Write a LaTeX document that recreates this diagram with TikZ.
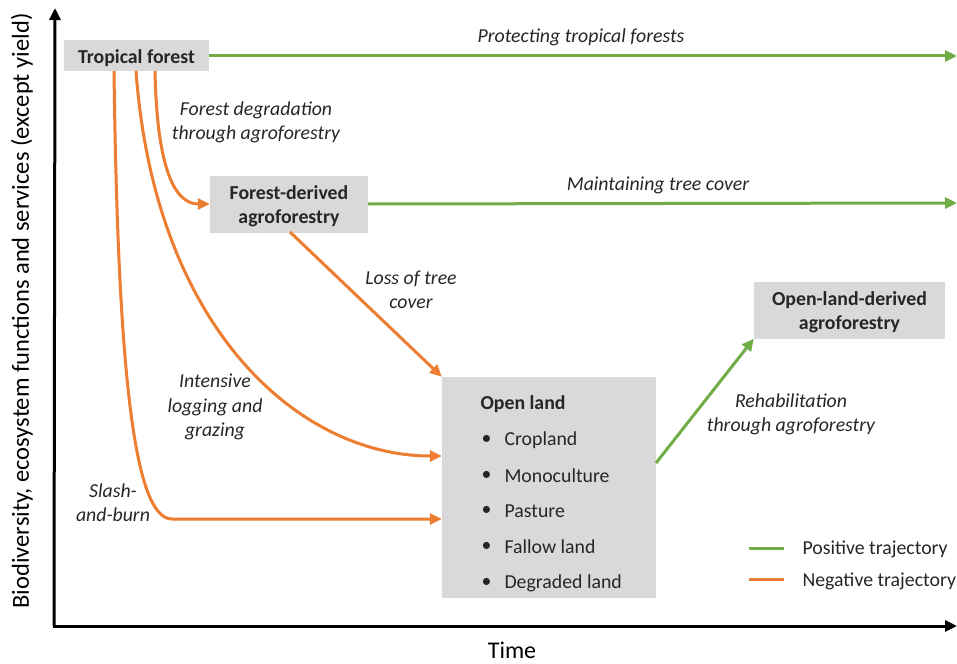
\documentclass[tikz,border=0pt]{standalone}
\usepackage{fontspec}
\setmainfont{Carlito}
\usetikzlibrary{arrows.meta}
\definecolor{boxgray}{HTML}{D9D9D9}
\definecolor{posgreen}{HTML}{70AD47}
\definecolor{negorange}{HTML}{ED7D31}
\definecolor{txt}{HTML}{262626}
\tikzset{
  graybox/.style={fill=boxgray, inner sep=0pt},
  boxtext/.style={font=\fontsize{19.8}{24}\selectfont\bfseries, text=txt, align=center},
  lbl/.style={font=\fontsize{19.8}{24.3}\selectfont\itshape, text=txt, align=center},
  posarrow/.style={draw=posgreen, line width=3pt, -{Triangle[length=12pt,width=11pt]}},
  negarrow/.style={draw=negorange, line width=3pt, -{Triangle[length=12pt,width=11pt]}},
  axisarrow/.style={draw=black, line width=3pt, -{Triangle[length=12pt,width=11pt]}},
  listitem/.style={font=\fontsize{19.8}{24}\selectfont, text=txt, anchor=west}
}
\begin{document}
\begin{tikzpicture}[x=1pt,y=-1pt]
\useasboundingbox (0,0) rectangle (957,663);
% axes
\coordinate (origin) at (54,626);
\coordinate (ytip) at (55,8);
\coordinate (xtip) at (957,626);
\draw[axisarrow] (origin) -- (ytip);
\draw[axisarrow] ([xshift=-1.5pt]origin) -- (xtip);
\node[font=\fontsize{24.5}{29}\selectfont, text=black, rotate=90, inner sep=0pt] (ylab) at (22,311) {Biodiversity, ecosystem functions and services (except yield)};
\node[font=\fontsize{24}{29}\selectfont, text=black, inner sep=0pt] (xlab) at (512,650) {Time};
% boxes
\node[graybox, minimum width=145pt, minimum height=31pt] (tf) at (136.5,56) {};
\node[boxtext] (tft) at (136.5,58) {Tropical forest};
\node[graybox, minimum width=158pt, minimum height=57pt] (fda) at (289,204) {};
\node[boxtext] (fdat) at (289,206.5) {Forest-derived\\agroforestry};
\node[graybox, minimum width=191pt, minimum height=57pt] (olda) at (849.5,310) {};
\node[boxtext] (oldat) at (849.5,312.5) {Open-land-derived\\agroforestry};
\node[graybox, minimum width=214pt, minimum height=221pt] (ol) at (549,487.5) {};
\node[listitem, font=\fontsize{19.8}{24}\selectfont\bfseries] (olt) at (477,404) {Open land};
\foreach \t/\y [count=\i] in {Cropland/440,Monoculture/476,Pasture/511,Fallow land/547,Degraded land/583}{
  \node[listitem] (b\i) at (478,\y) {•};
  \node[listitem] (i\i) at (501,\y) {\t};
}
% coordinates
\coordinate (tfr) at (209,56);
\coordinate (e1) at (957,56);
\coordinate (fdar) at (368,204);
\coordinate (e2) at (957,203);
\coordinate (s1) at (155,71);
\coordinate (s3) at (136,71);
\coordinate (s4) at (114,71);
\coordinate (k4) at (172,519);
\coordinate (fdab) at (290,232);
\coordinate (olr) at (656,463);
% green arrows
\draw[posarrow] (tfr) -- (e1);
\draw[posarrow] (fdar) -- (e2);
\draw[posarrow] (olr) -- (olda.south west);
% orange arrows
\draw[negarrow] (s1) .. controls (157,170) and (175,204) .. (fda.west);
\draw[negarrow] (fdab) -- (ol.north west);
\draw[negarrow] (s3) .. controls (155,330) and (300,456) .. (ol.west |- 0,456);
\draw[negarrow] (s4) .. controls (118,380) and (135,519) .. (k4) -- (ol.west |- k4);
% labels
\node[lbl] (l1) at (581,37) {Protecting tropical forests};
\node[lbl] (l2) at (658,185) {Maintaining tree cover};
\node[lbl] (l3) at (256,122) {Forest degradation\\through agroforestry};
\node[lbl] (l4) at (411,290) {Loss of tree\\cover};
\node[lbl] (l5) at (215,407) {Intensive\\logging and\\grazing};
\node[lbl] (l6) at (113,503) {Slash-\\and-burn};
\node[lbl] (l7) at (791,414) {Rehabilitation\\through agroforestry};
% legend
\coordinate (g1) at (749,548); \coordinate (g2) at (784,548);
\coordinate (o1) at (749,579); \coordinate (o2) at (784,579);
\draw[posgreen, line width=3pt] (g1) -- (g2);
\draw[negorange, line width=3pt] (o1) -- (o2);
\node[listitem] (lg1) at (799,549) {Positive trajectory};
\node[listitem] (lg2) at (799,581) {Negative trajectory};
\end{tikzpicture}
\end{document}
